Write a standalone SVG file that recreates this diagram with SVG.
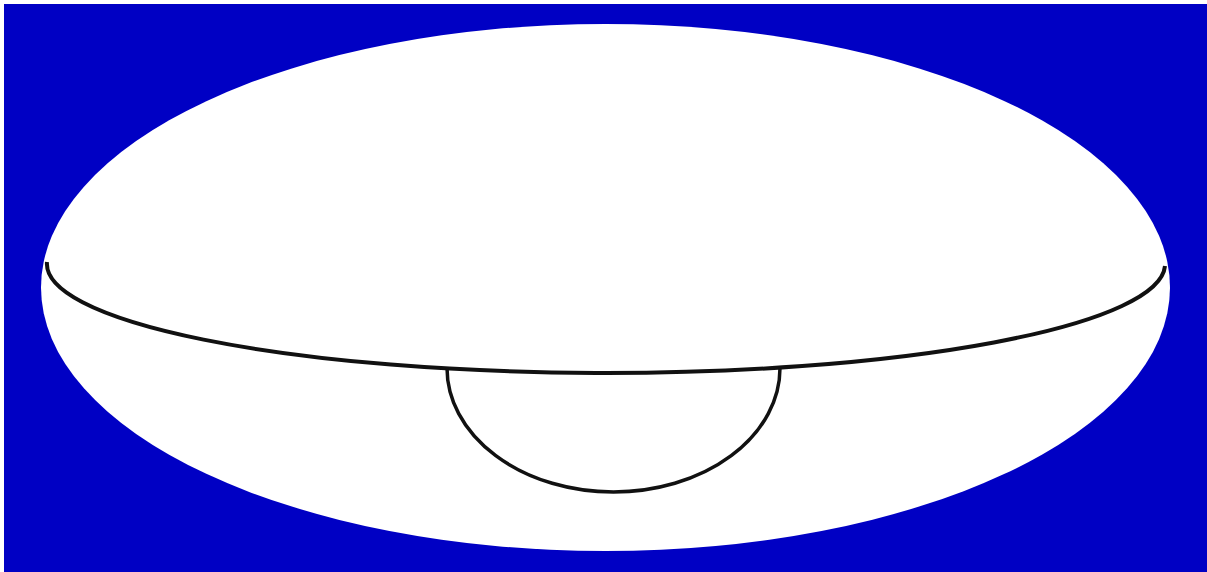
<svg xmlns="http://www.w3.org/2000/svg" width="1207" height="572" viewBox="0 0 1207 572">
<style>
.line{fill:none;stroke:#111;stroke-linecap:butt}
</style>
<rect x="0" y="0" width="1207" height="572" fill="#ffffff"/>
<rect x="4" y="4" width="1203" height="568" fill="#0000c4"/>
<ellipse cx="605.5" cy="287.5" rx="564.5" ry="263.5" fill="#ffffff"/>
<g id="curves">
<path class="line" stroke-width="4" d="M47,262 A559,109 0 0 0 1165,266"/>
<path class="line" stroke-width="3.5" d="M447,368 A166.5,124 0 0 0 780,368"/>
</g>
</svg>
